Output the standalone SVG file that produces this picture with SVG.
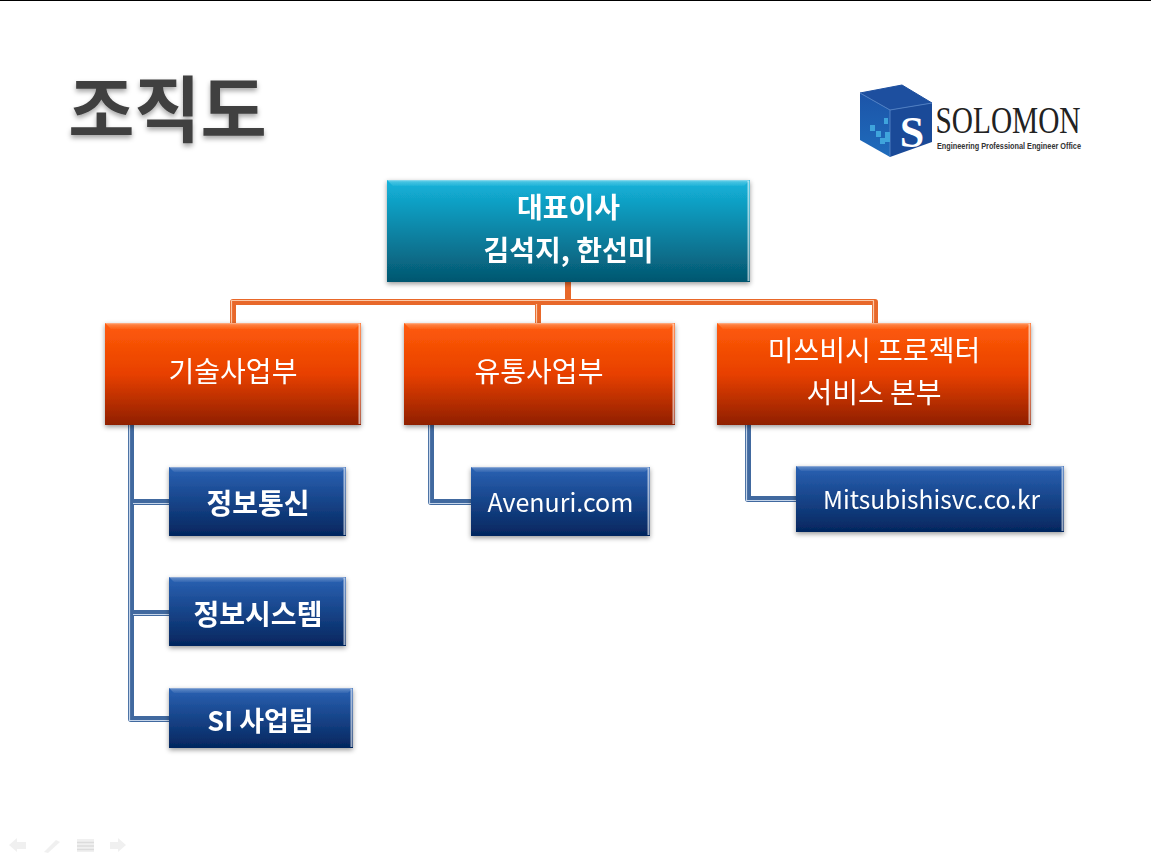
<svg xmlns="http://www.w3.org/2000/svg" width="1151" height="864" viewBox="0 0 1151 864">
<style>
text{font-family:"Noto Sans CJK KR","Noto Sans",sans-serif;text-anchor:middle}
.w{fill:#fff}
.b{font-weight:700}
.t28{font-size:28px}
.hi{fill:url(#gH)}
.ed{fill:#fff;fill-opacity:.6}
.cO{fill:none;stroke:#e8682a;stroke-width:6;stroke-linejoin:round}
.cOh{fill:none;stroke:#fbc9a8;stroke-width:1.2;stroke-linejoin:round}
.cB{fill:none;stroke:#41699f;stroke-width:6;stroke-linejoin:round}
.cBh{fill:none;stroke:#c5d5ea;stroke-width:1.2;stroke-linejoin:round}
.nav{fill:#f0f0f0}
.navl{stroke:#dcdcdc;stroke-width:1.5}
</style>
<defs>
<linearGradient id="gH" x1="0" y1="0" x2="0" y2="1"><stop offset="0" stop-color="#fff" stop-opacity=".55"/><stop offset=".3" stop-color="#fff" stop-opacity=".22"/><stop offset="1" stop-color="#fff" stop-opacity=".05"/></linearGradient>
<linearGradient id="gT" x1="0" y1="0" x2="0" y2="1"><stop offset="0" stop-color="#14b4dc"/><stop offset="1" stop-color="#04566f"/></linearGradient>
<linearGradient id="gO" x1="0" y1="0" x2="0" y2="1"><stop offset="0" stop-color="#ff5c0a"/><stop offset=".5" stop-color="#e84000"/><stop offset="1" stop-color="#8f1f00"/></linearGradient>
<linearGradient id="gB" x1="0" y1="0" x2="0" y2="1"><stop offset="0" stop-color="#2a62b4"/><stop offset="1" stop-color="#04265e"/></linearGradient>
<linearGradient id="gC" x1="0" y1="0" x2="0" y2="1"><stop offset="0" stop-color="#1c54a8"/><stop offset="1" stop-color="#1f6cbc"/></linearGradient>
<filter id="sh" x="-10%" y="-10%" width="120%" height="125%"><feDropShadow dx="0" dy="2" stdDeviation="2.5" flood-color="#000" flood-opacity=".4"/></filter>
<filter id="ts" x="-10%" y="-10%" width="120%" height="130%"><feDropShadow dx="0" dy="3" stdDeviation="2.5" flood-color="#000" flood-opacity=".35"/></filter>
</defs>
<rect width="1151" height="864" fill="#fff"/>
<rect width="1151" height="1" fill="#000"/>
<g id="title"><text x="167.500" y="136" font-size="72" class="b" fill="#404040" filter="url(#ts)">조직도</text></g>
<g id="logo">
<polygon points="860,93 902,85 932,103 890,110" fill="#1d4f9f" stroke="#1d4f9f"/>
<polygon points="860,93 890,110 890,157 860,140" fill="url(#gC)"/>
<polygon points="890,110 932,103 932,142 890,157" fill="#1a4a98"/>
<path d="M860 93L890 110L932 103M890 110V157" fill="none" stroke="#5d8ccb" stroke-width=".8"/>
<g fill="#3fa4dc"><rect x="870" y="125" width="5" height="6"/><rect x="876" y="131" width="5" height="6"/><rect x="884" y="118" width="4" height="6"/><rect x="880" y="138" width="5" height="6"/><rect x="885" y="132" width="5" height="10"/></g>
<text x="912" y="147" font-size="44" class="w" style="font-family:'Liberation Serif',serif;font-weight:700">S</text>
<text x="1008" y="133" font-size="37" fill="#222" textLength="145" lengthAdjust="spacingAndGlyphs" style="font-family:'Liberation Serif',serif">SOLOMON</text>
<text x="1009" y="149" font-size="8.500" class="b" fill="#333" textLength="144" lengthAdjust="spacingAndGlyphs" style="font-family:'Liberation Sans',sans-serif">Engineering Professional Engineer Office</text>
</g>
<g id="connectors">
<path class="cO" d="M568 282V302M233 323V302H875V323M538 302V323"/>
<path class="cOh" d="M231.500 323V300.500H565M541 300.500H873.500V323M536.500 304V323"/>
<path class="cB" d="M131 425V719H169M131 502H169M131 613H169M431 425V502H471M748 425V499H796"/>
<path class="cBh" d="M129.500 425V720.500H169M133 503.500H169M133 614.500H169M429.500 425V503.500H471M746.500 425V500.500H796"/>
</g>
<g id="n-ceo" filter="url(#sh)"><rect x="387" y="180" width="363" height="102" fill="url(#gT)"/><polygon class="hi" points="387,180 750,180 744,186 393,186"/><rect class="ed" x="747.500" y="181" width="2" height="100"/><text x="568.500" y="218" class="w b t28">대표이사</text><text x="568.500" y="261" class="w b t28">김석지, 한선미</text></g>
<g id="n-tech" filter="url(#sh)"><rect x="105" y="323" width="256" height="102" fill="url(#gO)"/><polygon class="hi" points="105,323 361,323 355,329 111,329"/><rect class="ed" x="358.500" y="324" width="2" height="100"/><text x="233" y="382" class="w t28">기술사업부</text></g>
<g id="n-dist" filter="url(#sh)"><rect x="404" y="323" width="271" height="102" fill="url(#gO)"/><polygon class="hi" points="404,323 675,323 669,329 410,329"/><rect class="ed" x="672.500" y="324" width="2" height="100"/><text x="539" y="382" class="w t28">유통사업부</text></g>
<g id="n-mit" filter="url(#sh)"><rect x="717" y="323" width="314" height="102" fill="url(#gO)"/><polygon class="hi" points="717,323 1031,323 1025,329 723,329"/><rect class="ed" x="1028.500" y="324" width="2" height="100"/><text x="874" y="361" class="w t28">미쓰비시 프로젝터</text><text x="874" y="403" class="w t28">서비스 본부</text></g>
<g id="n-info" filter="url(#sh)"><rect x="169" y="467" width="177" height="69" fill="url(#gB)"/><polygon class="hi" points="169,467 346,467 341,472 174,472"/><rect class="ed" x="343.500" y="468" width="2" height="67"/><text x="258" y="514" class="w b t28">정보통신</text></g>
<g id="n-sys" filter="url(#sh)"><rect x="169" y="577" width="177" height="69" fill="url(#gB)"/><polygon class="hi" points="169,577 346,577 341,582 174,582"/><rect class="ed" x="343.500" y="578" width="2" height="67"/><text x="258" y="625" class="w b t28">정보시스템</text></g>
<g id="n-si" filter="url(#sh)"><rect x="169" y="688" width="184" height="60" fill="url(#gB)"/><polygon class="hi" points="169,688 353,688 348,693 174,693"/><rect class="ed" x="350.500" y="689" width="2" height="58"/><text x="260.500" y="731" font-size="27" class="w b">SI 사업팀</text></g>
<g id="n-ave" filter="url(#sh)"><rect x="471" y="467" width="179" height="69" fill="url(#gB)"/><polygon class="hi" points="471,467 650,467 645,472 476,472"/><rect class="ed" x="647.500" y="468" width="2" height="67"/><text x="560.500" y="512" font-size="25" class="w">Avenuri.com</text></g>
<g id="n-msvc" filter="url(#sh)"><rect x="796" y="466" width="268" height="66" fill="url(#gB)"/><polygon class="hi" points="796,466 1064,466 1059,471 801,471"/><rect class="ed" x="1061.500" y="467" width="2" height="64"/><text x="931.500" y="509" font-size="24.600" class="w">Mitsubishisvc.co.kr</text></g>
<g id="nav">
<polygon class="nav" points="9,845 17,838 17,842 26,842 26,849 17,849 17,852"/>
<polygon class="nav" points="44,852 56,840 60,842 48,853"/>
<rect class="nav" x="77" y="839" width="17" height="13"/>
<path class="navl" d="M77 842.500H94M77 846H94M77 849.500H94"/>
<polygon class="nav" points="126,845 118,838 118,842 110,842 110,849 118,849 118,852"/>
</g>
</svg>
